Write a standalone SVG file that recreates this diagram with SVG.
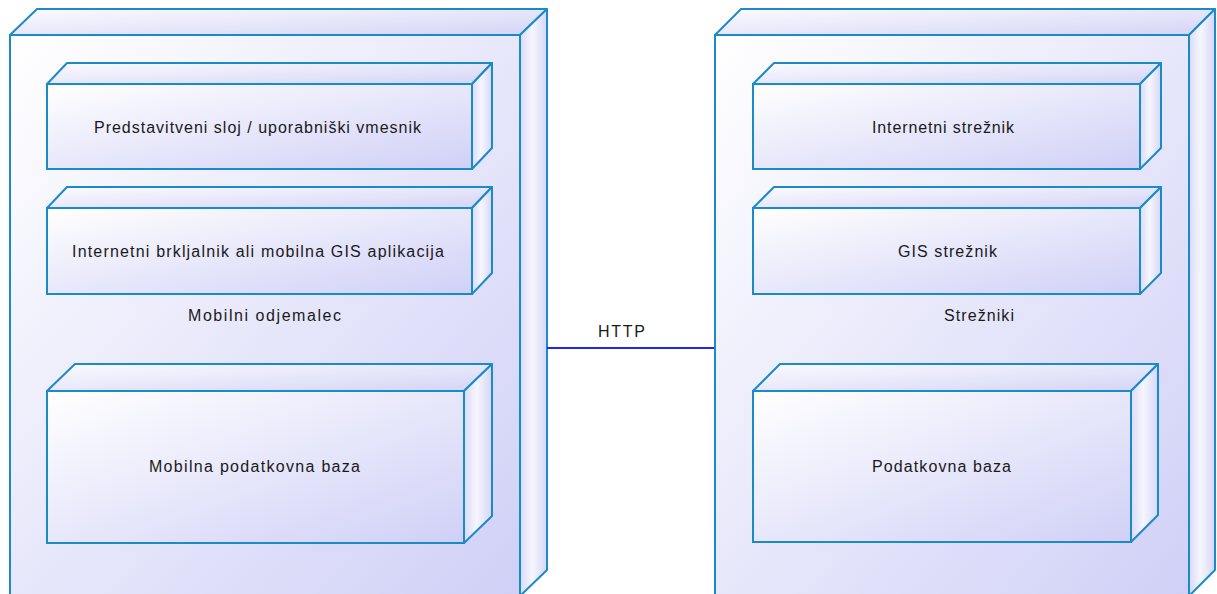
<svg xmlns="http://www.w3.org/2000/svg" width="1217" height="594" viewBox="0 0 1217 594">
  <defs>
    <linearGradient id="gFront" x1="0" y1="0" x2="1" y2="1">
      <stop offset="0" stop-color="#ffffff"/>
      <stop offset="1" stop-color="#d0d0f7"/>
    </linearGradient>
    <linearGradient id="gTop" x1="0" y1="0" x2="1" y2="1">
      <stop offset="0" stop-color="#fbfbff"/>
      <stop offset="1" stop-color="#d4d4f6"/>
    </linearGradient>
    <linearGradient id="gSide" x1="0" y1="0" x2="1" y2="0">
      <stop offset="0" stop-color="#dadaf7"/>
      <stop offset="0.45" stop-color="#f6f6ff"/>
      <stop offset="1" stop-color="#d6d6f6"/>
    </linearGradient>
  </defs>
  <style>
    .front { fill: url(#gFront); stroke: #1b8ac9; stroke-width: 2; }
    .top { fill: url(#gTop); stroke: #1b8ac9; stroke-width: 2; stroke-linejoin: round; }
    .side { fill: url(#gSide); stroke: #1b8ac9; stroke-width: 2; stroke-linejoin: round; }
    .lbl { font-family: "Liberation Sans", Arial, sans-serif; font-size: 16px; fill: #1a1a1a; }
    .link { stroke: #2222ff; stroke-width: 2; fill: none; }
  </style>

  <!-- Mobile client node -->
  <g id="mobilni-odjemalec">
    <polygon class="top" points="10,35 37,9 547,9 520,35"/>
    <polygon class="side" points="520,35 547,9 547,570 520,596"/>
    <rect class="front" x="10" y="35" width="510" height="561"/>
    <text class="lbl" x="188" y="321" textLength="153" lengthAdjust="spacing">Mobilni odjemalec</text>
  </g>

  <g id="predstavitveni-sloj">
    <polygon class="top" points="47,84 67,63 492,63 472,84"/>
    <polygon class="side" points="472,84 492,63 492,148 472,169"/>
    <rect class="front" x="47" y="84" width="425" height="85"/>
    <text class="lbl" x="94" y="133" textLength="327" lengthAdjust="spacing">Predstavitveni sloj / uporabniški vmesnik</text>
  </g>

  <g id="brskalnik">
    <polygon class="top" points="47,208 67,187 492,187 472,208"/>
    <polygon class="side" points="472,208 492,187 492,273 472,294"/>
    <rect class="front" x="47" y="208" width="425" height="86"/>
    <text class="lbl" x="72" y="257" textLength="372" lengthAdjust="spacing">Internetni brkljalnik ali mobilna GIS aplikacija</text>
  </g>

  <g id="mobilna-baza">
    <polygon class="top" points="47,391 75,364 492,364 464,391"/>
    <polygon class="side" points="464,391 492,364 492,516 464,543"/>
    <rect class="front" x="47" y="391" width="417" height="152"/>
    <text class="lbl" x="149" y="472" textLength="211" lengthAdjust="spacing">Mobilna podatkovna baza</text>
  </g>

  <!-- Servers node -->
  <g id="strezniki">
    <polygon class="top" points="715,35 741,9 1215,9 1189,35"/>
    <polygon class="side" points="1189,35 1215,9 1215,570 1189,596"/>
    <rect class="front" x="715" y="35" width="474" height="561"/>
    <text class="lbl" x="944" y="321" textLength="70" lengthAdjust="spacing">Strežniki</text>
  </g>

  <g id="internetni-streznik">
    <polygon class="top" points="753,84 774,63 1161,63 1140,84"/>
    <polygon class="side" points="1140,84 1161,63 1161,148 1140,169"/>
    <rect class="front" x="753" y="84" width="387" height="85"/>
    <text class="lbl" x="872" y="133" textLength="142" lengthAdjust="spacing">Internetni strežnik</text>
  </g>

  <g id="gis-streznik">
    <polygon class="top" points="753,208 774,187 1161,187 1140,208"/>
    <polygon class="side" points="1140,208 1161,187 1161,273 1140,294"/>
    <rect class="front" x="753" y="208" width="387" height="86"/>
    <text class="lbl" x="898" y="257" textLength="99" lengthAdjust="spacing">GIS strežnik</text>
  </g>

  <g id="podatkovna-baza">
    <polygon class="top" points="753,391 780,364 1158,364 1131,391"/>
    <polygon class="side" points="1131,391 1158,364 1158,515 1131,542"/>
    <rect class="front" x="753" y="391" width="378" height="151"/>
    <text class="lbl" x="872" y="472" textLength="139" lengthAdjust="spacing">Podatkovna baza</text>
  </g>

  <!-- Connectors -->
  <g id="connectors">
    <line class="link" x1="547" y1="348" x2="714" y2="348"/>
    <text class="lbl" x="598" y="337" textLength="47" lengthAdjust="spacing">HTTP</text>
  </g>
</svg>
